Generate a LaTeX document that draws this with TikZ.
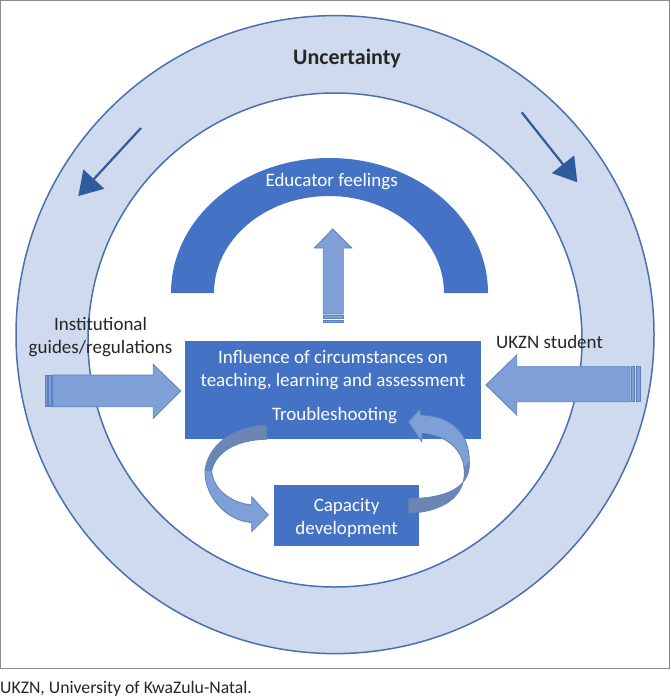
\documentclass[tikz,border=0pt]{standalone}
\usepackage{fontspec}
\setmainfont{Carlito}
\usepackage{xcolor}
\usetikzlibrary{arrows.meta, positioning}

\definecolor{ringblue}{HTML}{CFDAEE}
\definecolor{ringline}{HTML}{4A70B2}
\definecolor{boxblue}{HTML}{4472C4}
\definecolor{arrowlight}{HTML}{7FA0D6}
\definecolor{arrowedge}{HTML}{5B80BF}
\definecolor{arrowback}{HTML}{6C86B4}
\definecolor{darkarrow}{HTML}{2E5B9C}
\definecolor{labelgray}{HTML}{262626}
\definecolor{framegray}{HTML}{8C8C8C}

\begin{document}
\begin{tikzpicture}[x=1pt, y=-1pt,
    bodytext/.style={font=\fontsize{19}{23}\selectfont, align=center, inner sep=0pt},
    boxtext/.style={bodytext, text=white},
    labeltext/.style={bodytext, text=labelgray},
    bluebox/.style={fill=boxblue, draw=none, inner sep=0pt},
    blockarrow/.style={fill=arrowlight, draw=arrowedge, line width=0.8pt},
    ribbonback/.style={fill=arrowback, draw=arrowedge, line width=0.6pt},
    ringarrow/.style={darkarrow, line width=2.2pt, -{Triangle[length=23pt,width=28pt]}}]
    \useasboundingbox (0,0) rectangle (670,698);

    % Frame
    \draw[framegray, line width=1pt] (0.5,0.5) rectangle (669,668);

    % Uncertainty ring
    \fill[ringblue, even odd rule] (335,334.6) circle (319pt) (335,340) circle (247pt);
    \draw[ringline, line width=1.5pt] (335,334.6) circle (319pt);
    \draw[ringline, line width=1.5pt] (335,340) circle (247pt);
    \node[font=\bfseries\fontsize{22}{26}\selectfont, text=labelgray] (uncert) at (347,59) {Uncertainty};

    % Arrows on the ring
    \coordinate (lfrom) at (141,128);
    \coordinate (lto) at (78.3,196);
    \coordinate (rfrom) at (521.7,112.3);
    \coordinate (rto) at (577.3,182.3);
    \draw[ringarrow] (lfrom) -- (lto);
    \draw[ringarrow] (rfrom) -- (rto);

    % Educator feelings arc
    \fill[boxblue] (171,293) arc[start angle=180, end angle=0, x radius=158.5pt, y radius=135pt]
        -- (444,293) arc[start angle=0, end angle=180, x radius=115pt, y radius=97pt] -- cycle;
    \node[boxtext] (feel) at (331.6,181.7) {Educator feelings};

    % Boxes
    \node[bluebox, minimum width=296pt, minimum height=98pt] (infl) at (333,389.6) {};
    \node[boxtext] (infltext) at (333,370.5) {Influence of circumstances on\\teaching, learning and assessment};
    \node[boxtext] (trouble) at (334.6,416) {Troubleshooting};
    \node[bluebox, minimum width=145.5pt, minimum height=61pt] (cap) at (346.6,515.3) {};
    \node[boxtext] (captext) at (346.6,517.5) {Capacity\\development};

    % Striped block arrows
    \draw[blockarrow] (323.3,314) -- (323.3,248) -- (314.3,248) -- (332.7,229) -- (351.7,248)
        -- (343.3,248) -- (343.3,314) -- cycle;
    \foreach \ya/\yb in {315.5/318.5, 320/322.7}
        \draw[blockarrow] (323.3,\ya) rectangle (343.3,\yb);

    \draw[blockarrow] (52.5,375) -- (153.3,375) -- (153.3,364.3) -- (180.7,391) -- (153.3,418.3)
        -- (153.3,406.7) -- (52.5,406.7) -- cycle;
    \foreach \xa/\xb in {45/47, 48.5/51}
        \draw[blockarrow] (\xa,375) rectangle (\xb,406.7);

    \draw[blockarrow] (630,366.7) -- (516.7,366.7) -- (516.7,355) -- (486,385) -- (516.7,415)
        -- (516.7,401.7) -- (630,401.7) -- cycle;
    \foreach \xa/\xb in {631.5/634, 636.5/640}
        \draw[blockarrow] (\xa,366.7) rectangle (\xb,401.7);

    \node[labeltext] (inst) at (100.5,337.3) {Institutional\\guides/regulations};
    \node[labeltext] (student) at (549.5,342) {UKZN student};

    % Troubleshooting loop
    \filldraw[ribbonback] (266.7,425) .. controls (232,426) and (208,446) .. (205,470)
        -- (211.7,471) .. controls (216,452) and (236,440) .. (266.7,439.3) -- cycle;
    \filldraw[blockarrow] (205,470) .. controls (204,496) and (226,521) .. (251.7,522.5)
        -- (251.7,531.7) -- (268.3,515) -- (251.7,496.7) -- (251.7,505)
        .. controls (232,503) and (213,490) .. (211.7,471) -- cycle;
    \filldraw[ribbonback] (469.3,463) .. controls (471,487) and (445,499) .. (408.3,498.3)
        -- (408.3,513.3) .. controls (445,512) and (467,495) .. (464,468) -- cycle;
    \filldraw[blockarrow] (469.3,463) .. controls (470,432) and (450,416) .. (420.7,415)
        -- (420,409.3) -- (408.3,421.7) -- (421.7,441.7) -- (422,433.3)
        .. controls (445,435) and (462,448) .. (464,468) -- cycle;

    \node[anchor=west, font=\fontsize{17.7}{21}\selectfont, text=labelgray, inner sep=0pt] (caption)
        at (0,689) {UKZN, University of KwaZulu-Natal.};
\end{tikzpicture}
\end{document}
